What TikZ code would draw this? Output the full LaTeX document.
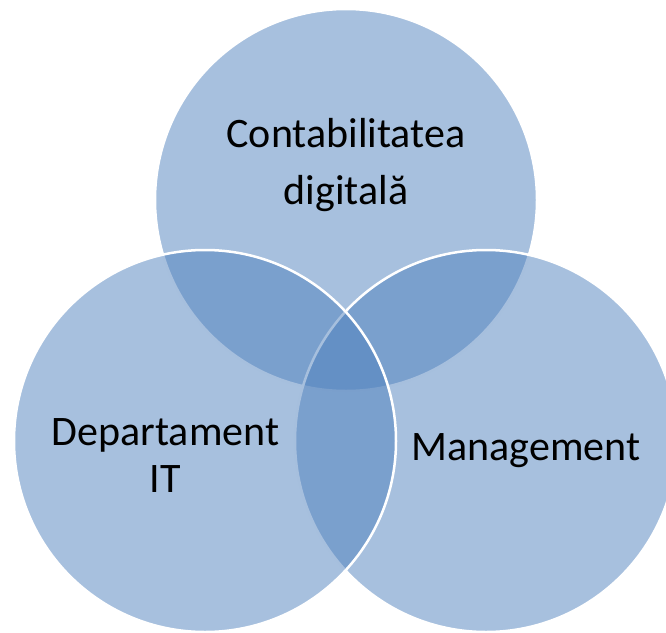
\documentclass[tikz,border=0pt]{standalone}
\usepackage{fontspec}
\setmainfont{Carlito}
\definecolor{accentblue}{HTML}{4F81BD}

\begin{document}
\begin{tikzpicture}[x=1pt,y=-1pt,
  set/.style={circle, minimum size=382pt, inner sep=0pt, fill=accentblue,
    fill opacity=0.5, draw=white, line width=2.5pt},
  lbl/.style={align=center, anchor=base, inner sep=0pt, text=black}]

\useasboundingbox (0,0) rectangle (666,632);

% the three sets: top one first, then right, then left
\node[set] (digital) at (346,200) {};
\node[set] (mgmt) at (486,441) {};
\node[set] (dept) at (205,441) {};

% labels sit on the baseline of their last line
\node[lbl, font=\fontsize{42}{57}\selectfont] (digitaltxt) at (346,204) {Contabilitatea\\digitală};
\node[lbl, font=\fontsize{42}{47}\selectfont] (depttxt) at (165.5,492) {Departament\\IT};
\node[lbl, font=\fontsize{42}{50}\selectfont] (mgmttxt) at (526,460) {Management};

\end{tikzpicture}
\end{document}
